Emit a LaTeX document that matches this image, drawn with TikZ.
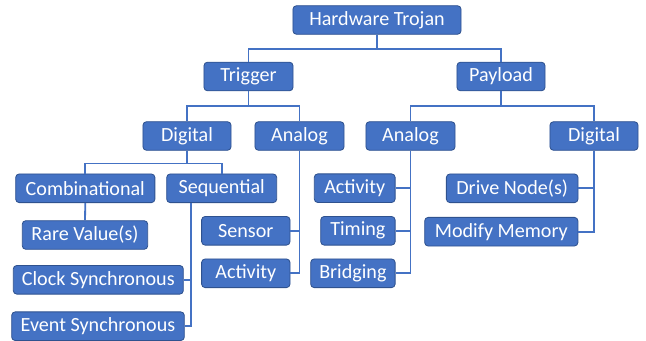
\documentclass[tikz,border=0pt]{standalone}
\usepackage{fontspec}
\setmainfont{Carlito}
\usepackage{xcolor}
\usetikzlibrary{calc}
\definecolor{boxblue}{HTML}{4472C4}
\definecolor{boxedge}{HTML}{2F528F}
\begin{document}
\begin{tikzpicture}[x=0.025cm, y=-0.025cm,
	box/.style={draw=boxedge, line width=0.6pt, fill=boxblue, rounded corners=2.5pt, text=white, minimum height=0.715cm, inner sep=0pt, font=\fontsize{14.3}{16}\selectfont},
	wire/.style={draw=boxblue, line width=1.3pt}]
	\useasboundingbox (0, 0) rectangle (646, 341);
	% Nodes:
	\node[box, minimum width=4.2cm](HT) at (377, 20){Hardware Trojan};
	\node[box, minimum width=2.225cm](TR) at (248.5, 76.5){Trigger};
	\node[box, minimum width=2.2cm](PL) at (501, 76.5){Payload};
	\node[box, minimum width=2.2cm](TD) at (187, 136){Digital};
	\node[box, minimum width=2.225cm](TA) at (299.5, 136){Analog};
	\node[box, minimum width=2.225cm](PA) at (410.5, 136){Analog};
	\node[box, minimum width=2.2cm](PD) at (594, 136){Digital};
	\node[box, minimum width=3.48cm](CO) at (85.3, 188.3){Combinational};
	\node[box, minimum width=2.75cm](SE) at (221.7, 188.3){Sequential};
	\node[box, minimum width=3.135cm](RV) at (85, 235){Rare Value(s)};
	\node[box, minimum width=4.25cm](CS) at (98.3, 279.8){Clock Synchronous};
	\node[box, minimum width=4.315cm](ES) at (98, 326.2){Event Synchronous};
	\node[box, minimum width=2.21cm](SN) at (245.8, 230.8){Sensor};
	\node[box, minimum width=2.21cm](TAA) at (245.8, 273.3){Activity};
	\node[box, minimum width=2.02cm](PAA) at (354.7, 188.2){Activity};
	\node[box, minimum width=1.86cm](PAT) at (357.9, 230.8){Timing};
	\node[box, minimum width=2.11cm](PAB) at (352.9, 273.3){Bridging};
	\node[box, minimum width=3.29cm](DN) at (512.2, 188.3){Drive Node(s)};
	\node[box, minimum width=3.83cm](MM) at (501.3, 231.7){Modify Memory};
	\coordinate (SEbus) at ($(SE.south west)+(25, 0)$);
	% Wires:
	\draw[wire] (HT.south) -- ++(0, 14) -| (TR.north);
	\draw[wire] (HT.south) -- ++(0, 14) -| (PL.north);
	\draw[wire] (TR.south) -- ++(0, 15) -| (TD.north);
	\draw[wire] (TR.south) -- ++(0, 15) -| (TA.north);
	\draw[wire] (PL.south) -- ++(0, 15) -| (PA.north);
	\draw[wire] (PL.south) -- ++(0, 15) -| (PD.north);
	\draw[wire] (TD.south) -- ++(0, 12.7) -| (CO.north);
	\draw[wire] (TD.south) -- ++(0, 12.7) -| (SE.north);
	\draw[wire] (CO.south) -- (RV.north);
	\draw[wire] (SEbus) |- (CS.east);
	\draw[wire] (SEbus) |- (ES.east);
	\draw[wire] (TA.south) |- (SN.east);
	\draw[wire] (TA.south) |- (TAA.east);
	\draw[wire] (PA.south) |- (PAA.east);
	\draw[wire] (PA.south) |- (PAT.east);
	\draw[wire] (PA.south) |- (PAB.east);
	\draw[wire] (PD.south) |- (DN.east);
	\draw[wire] (PD.south) |- (MM.east);
\end{tikzpicture}
\end{document}
